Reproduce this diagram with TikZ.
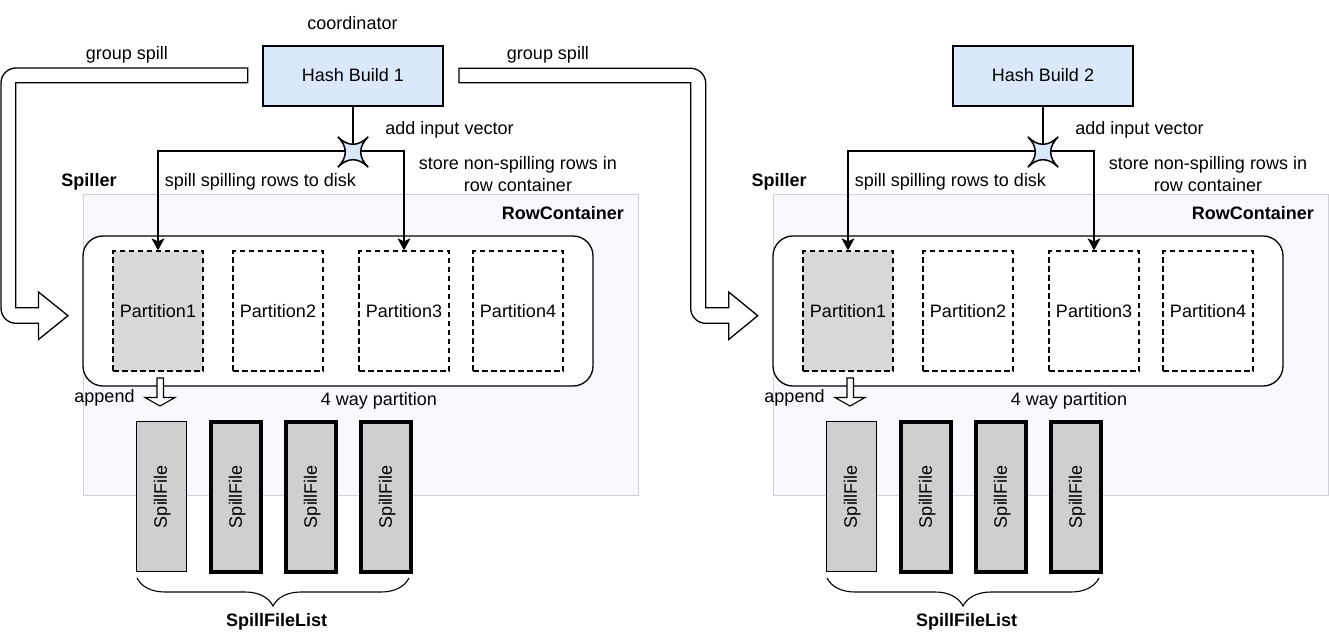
\documentclass[tikz,border=0pt]{standalone}
\usepackage{fontspec}
\setmainfont{Liberation Sans}
\usetikzlibrary{arrows.meta, positioning, decorations.pathreplacing}
\definecolor{hashblue}{HTML}{DAE8FC}
\definecolor{paleback}{HTML}{F9F8FF}
\definecolor{paleedge}{HTML}{D0D0D8}
\definecolor{partgrey}{HTML}{D8D8D8}
\definecolor{filegrey}{HTML}{CFCFCF}
\tikzset{
  lbl/.style={inner sep=0, text height=14.5, text depth=2},
  boldlbl/.style={lbl, font=\fontsize{18}{22.5}\selectfont\bfseries},
  hashbox/.style={draw, fill=hashblue, minimum width=180, minimum height=60, line width=1.3, inner sep=0, text height=13, text depth=2},
  starbox/.style={minimum size=30, inner sep=0},
  starcore/.style={minimum size=10, inner sep=0},
  starshape/.style={draw, fill=hashblue, line width=1.5},
  flow/.style={draw, line width=1.3, -{Stealth[length=12, width=13, inset=3]}},
  backbox/.style={draw=paleedge, fill=paleback, line width=1, minimum width=555, minimum height=300},
  groupbox/.style={draw, fill=white, rounded corners=20, line width=1.3, minimum width=510, minimum height=150},
  partbox/.style={draw, dash pattern=on 5.5 off 3.5, line width=1.3, minimum width=90, minimum height=120, lbl},
  filebox/.style={draw, fill=filegrey, rotate=90, minimum width=150, minimum height=50, inner sep=0, text height=13, text depth=2},
  hollow/.style={draw, fill=white, line width=1.3},
}
\begin{document}
\begin{tikzpicture}[x=1pt, y=-1pt, font=\fontsize{18}{22.5}\selectfont]
\useasboundingbox (0, 0) rectangle (1329, 644);
\node (coord)[lbl] at (352.5, 23.5) {coordinator};
\node (group1)[lbl] at (127, 53.5) {group spill};
\node (group2)[lbl] at (548, 53.5) {group spill};
\foreach \i/\dx in {1/0, 2/690} {
  \begin{scope}[xshift=\dx]
  \node (hash\i)[hashbox] at (353, 76) {Hash Build \i};
  \node (row\i)[backbox] at (360.5, 345) {};
  \node (rowlabel\i)[boldlbl, anchor=east] at (624, 213.5) {RowContainer};
  \node (spiller\i)[boldlbl] at (89, 180.5) {Spiller};
  \node (group\i box)[groupbox] at (338, 311) {};
  \foreach \p/\px/\pc in {1/158/partgrey, 2/278/white, 3/404/white, 4/518/white} {
    \node (part\i\p)[partbox, fill=\pc] at (\px, 311) {Partition\p};
  }
  \node (star\i)[starbox] at (353, 152) {};
  \node (core\i)[starcore] at (353, 152) {};
  \draw[line width=1.3] (hash\i) -- (star\i.center);
  \draw[flow] (star\i.center) ++(0, -1) -| (part\i1.north);
  \draw[flow] (star\i.center) ++(0, -1) -| (part\i3.north);
  \draw[starshape] (star\i.north west) .. controls (core\i.north west) and (core\i.north east) .. (star\i.north east)
    .. controls (core\i.north east) and (core\i.south east) .. (star\i.south east)
    .. controls (core\i.south east) and (core\i.south west) .. (star\i.south west)
    .. controls (core\i.south west) and (core\i.north west) .. cycle;
  \node (add\i)[lbl] at (449.5, 128.5) {add input vector};
  \node (store\i)[align=center, inner sep=0] at (518, 174) {store non-spilling rows in\\row container};
  \node (disk\i)[lbl] at (260.5, 180.5) {spill spilling rows to disk};
  \node (way\i)[lbl] at (379, 399.5) {4 way partition};
  \node (append\i)[lbl] at (104.5, 396) {append};
  \draw[hollow, line width=1.1] (157, 378) -- (163.5, 378) -- (163.5, 397.5) -- (175, 397.5) -- (160, 406)
    -- (145, 397.5) -- (157, 397.5) -- cycle;
  \node (file\i1)[filebox, line width=1.3] at (161.3, 496.5) {SpillFile};
  \foreach \s/\sx in {2/236.3, 3/311.3, 4/386.3} {
    \node (file\i\s)[filebox, line width=4] at (\sx, 496.5) {SpillFile};
  }
  \coordinate (bracea\i) at (137, 578);
  \coordinate (braceb\i) at (409, 578);
  \draw[line width=1.1, decorate, decoration={brace, mirror, amplitude=28}] (bracea\i) -- (braceb\i);
  \node (list\i)[boldlbl] at (276.7, 620) {SpillFileList};
  \end{scope}
}
\draw[hollow] (247.7, 68) [rounded corners=15] -- (1, 68) -- (1, 323.3) [sharp corners] -- (38.5, 323.3)
  -- (38.5, 339.5) -- (68, 315.7) -- (38.5, 292) -- (38.5, 307.7) -- (15.7, 307.7) -- (15.7, 82.7) -- (247.7, 82.7) -- cycle;
\draw[hollow] (459, 68.3) [rounded corners=15] -- (705.7, 68.3) [sharp corners] -- (705.7, 307.7) -- (728.7, 307.7)
  -- (728.7, 292) -- (757.7, 315.7) -- (728.7, 339.5) -- (728.7, 323.3) [rounded corners=15] -- (690.7, 323.3)
  [sharp corners] -- (690.7, 82.7) -- (459, 82.7) -- cycle;
\end{tikzpicture}
\end{document}
